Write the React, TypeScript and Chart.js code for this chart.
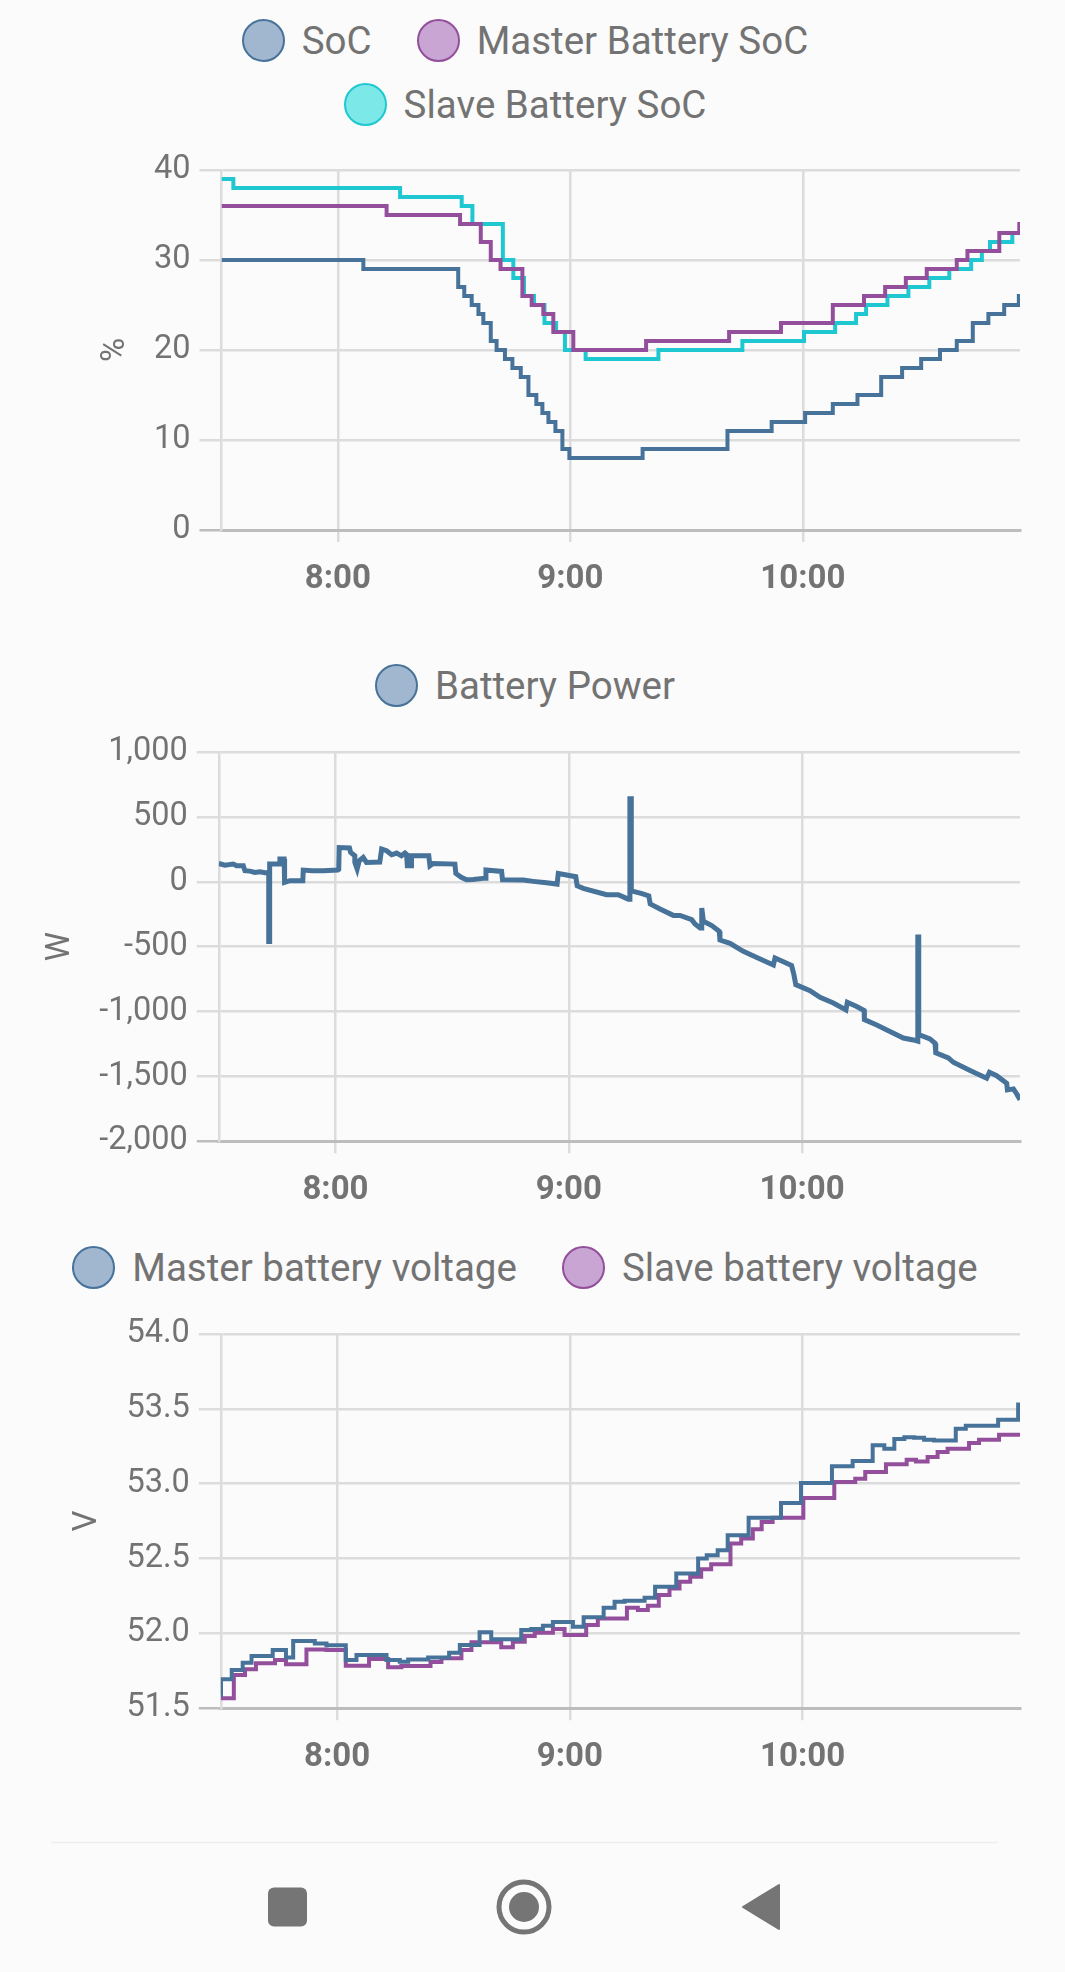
import React, { useEffect, useRef } from "react";
import { Chart, registerables } from "chart.js";

Chart.register(...registerables);

// ---- Data (hours since midnight / values) ----
const xTickHours = [8, 9, 10];
const xMin = 7.5;
const xMax = 10.934;

const socTimes = [7.5, 8.11, 8.518, 8.544, 8.576, 8.605, 8.626, 8.658, 8.683, 8.719, 8.751, 8.787, 8.82, 8.854, 8.88, 8.906, 8.936, 8.966, 8.996, 9.311, 9.676, 9.866, 10.01, 10.129, 10.235, 10.337, 10.427, 10.509, 10.59, 10.662, 10.731, 10.798, 10.866, 10.929, 10.934];
const socValues = [30, 29, 27, 26, 25, 24, 23, 21, 20, 19, 18, 17, 15, 14, 13, 12, 11, 9, 8, 9, 11, 12, 13, 14, 15, 17, 18, 19, 20, 21, 23, 24, 25, 26, 26];

const masterSocTimes = [7.5, 8.21, 8.526, 8.615, 8.658, 8.7, 8.794, 8.834, 8.884, 8.927, 9.013, 9.326, 9.683, 9.906, 10.129, 10.263, 10.354, 10.443, 10.533, 10.662, 10.708, 10.845, 10.931, 10.934];
const masterSocValues = [36, 35, 34, 32, 30, 29, 26, 25, 24, 22, 20, 21, 22, 23, 25, 26, 27, 28, 29, 30, 31, 33, 34, 34];

const slaveSocTimes = [7.5, 7.551, 8.268, 8.533, 8.579, 8.71, 8.755, 8.801, 8.844, 8.889, 8.939, 8.977, 9.066, 9.379, 9.74, 10.005, 10.139, 10.229, 10.272, 10.364, 10.454, 10.544, 10.63, 10.724, 10.77, 10.805, 10.901, 10.934];
const slaveSocValues = [39, 38, 37, 36, 34, 30, 28, 26, 25, 23, 22, 20, 19, 20, 21, 22, 23, 24, 25, 26, 27, 28, 29, 30, 31, 32, 33, 33];

const powerTimes = [7.5, 7.526, 7.562, 7.576, 7.605, 7.612, 7.633, 7.655, 7.676, 7.698, 7.714, 7.714, 7.718, 7.718, 7.762, 7.762, 7.78, 7.782, 7.805, 7.86, 7.862, 7.9, 7.948, 8.01, 8.014, 8.016, 8.06, 8.065, 8.083, 8.083, 8.093, 8.102, 8.119, 8.133, 8.19, 8.198, 8.219, 8.241, 8.262, 8.283, 8.298, 8.305, 8.308, 8.326, 8.326, 8.4, 8.405, 8.419, 8.512, 8.516, 8.541, 8.562, 8.591, 8.641, 8.645, 8.712, 8.716, 8.805, 8.848, 8.905, 8.95, 8.955, 9.03, 9.036, 9.062, 9.162, 9.212, 9.255, 9.262, 9.262, 9.268, 9.268, 9.314, 9.343, 9.349, 9.391, 9.448, 9.477, 9.527, 9.541, 9.563, 9.568, 9.57, 9.577, 9.613, 9.645, 9.648, 9.691, 9.748, 9.82, 9.877, 9.884, 9.92, 9.955, 9.965, 9.973, 10.034, 10.077, 10.134, 10.188, 10.194, 10.234, 10.266, 10.267, 10.32, 10.405, 10.434, 10.477, 10.496, 10.496, 10.5, 10.5, 10.548, 10.57, 10.573, 10.627, 10.648, 10.72, 10.791, 10.803, 10.834, 10.877, 10.88, 10.906, 10.92, 10.934];
const powerValues = [141, 128, 136, 123, 123, 85, 82, 72, 77, 69, 72, -460, -460, 136, 136, 175, 175, -5, 8, 8, 90, 85, 85, 90, 95, 264, 260, 226, 200, 149, 98, 162, 187, 149, 152, 252, 239, 208, 221, 200, 221, 210, 123, 123, 200, 200, 123, 141, 136, 64, 33, 15, 18, 28, 90, 80, 15, 13, 3, -8, -18, 64, 39, -31, -51, -100, -100, -134, -134, 640, 640, -70, -91, -109, -171, -210, -259, -259, -292, -325, -356, -356, -202, -305, -338, -382, -449, -474, -536, -595, -641, -587, -616, -646, -716, -793, -839, -890, -934, -988, -929, -962, -993, -1062, -1103, -1178, -1204, -1219, -1229, -425, -425, -1178, -1211, -1245, -1319, -1358, -1391, -1455, -1514, -1468, -1494, -1553, -1604, -1596, -1635, -1679];

const masterVoltTimes = [7.5, 7.501, 7.547, 7.594, 7.632, 7.723, 7.78, 7.811, 7.904, 7.954, 8.037, 8.083, 8.212, 8.269, 8.305, 8.391, 8.481, 8.527, 8.612, 8.662, 8.748, 8.791, 8.834, 8.884, 8.927, 9.013, 9.059, 9.145, 9.192, 9.235, 9.321, 9.366, 9.457, 9.551, 9.588, 9.635, 9.678, 9.768, 9.907, 9.993, 10.126, 10.215, 10.301, 10.351, 10.394, 10.437, 10.479, 10.522, 10.565, 10.658, 10.701, 10.84, 10.926, 10.934];
const masterVoltValues = [51.588, 51.693, 51.755, 51.804, 51.849, 51.889, 51.838, 51.949, 51.933, 51.92, 51.822, 51.855, 51.822, 51.811, 51.826, 51.838, 51.871, 51.922, 52.007, 51.96, 51.96, 52.022, 52.029, 52.051, 52.076, 52.044, 52.107, 52.171, 52.211, 52.218, 52.238, 52.311, 52.4, 52.5, 52.522, 52.556, 52.656, 52.773, 52.871, 53.004, 53.116, 53.151, 53.256, 53.233, 53.298, 53.311, 53.307, 53.293, 53.289, 53.367, 53.387, 53.427, 53.529, 53.529];

const slaveVoltTimes = [7.5, 7.556, 7.604, 7.651, 7.733, 7.78, 7.868, 7.954, 8.037, 8.137, 8.219, 8.276, 8.401, 8.448, 8.534, 8.577, 8.705, 8.755, 8.806, 8.849, 8.927, 8.977, 9.07, 9.12, 9.245, 9.292, 9.335, 9.382, 9.428, 9.471, 9.517, 9.564, 9.607, 9.69, 9.736, 9.786, 9.824, 9.871, 10.003, 10.136, 10.226, 10.269, 10.358, 10.447, 10.487, 10.537, 10.58, 10.623, 10.715, 10.758, 10.844, 10.934];
const slaveVoltValues = [51.566, 51.722, 51.76, 51.8, 51.822, 51.793, 51.893, 51.889, 51.784, 51.829, 51.773, 51.782, 51.809, 51.833, 51.889, 51.94, 51.907, 51.944, 51.982, 52.004, 52.029, 51.989, 52.056, 52.1, 52.171, 52.156, 52.184, 52.256, 52.3, 52.344, 52.378, 52.429, 52.462, 52.6, 52.633, 52.696, 52.744, 52.773, 52.904, 53.011, 53.033, 53.078, 53.129, 53.16, 53.149, 53.178, 53.211, 53.233, 53.271, 53.293, 53.327, 53.327];

const percentTicks = { min: 0, max: 40, step: 10 };
const powerTicks = { min: -2000, max: 1000, step: 500 };
const voltTicks = { min: 51.5, max: 54, step: 0.5 };

// ---- Styles ----
const BLUE = "#47729A";
const BLUE_FILL = "#A0B7CF";
const PURPLE = "#934F9C";
const PURPLE_FILL = "#C8A5D2";
const CYAN = "#1FC8D0";
const CYAN_FILL = "#7DE8E8";
const TEXT = "#737373";
const GRID = "#DCDCDC";
const AXIS = "#BDBDBD";
const BG = "#FBFBFB";
const FONT = "Roboto";

type Series = { label: string; times: number[]; values: number[]; color: string; fill: string };

const zip = (t: number[], v: number[]) => t.map((x, i) => ({ x, y: v[i] }));

type PanelProps = {
  series: Series[];
  stepped: boolean;
  lineWidth: number;
  yRange: { min: number; max: number; step: number };
  yTitle: string;
  yTitlePad: number;
  yFormat: (v: number) => string;
  legendTop: number;
  legendWidth: number;
  top: number;
  height: number;
  plotTop: number;
  plotBottom: number;
  plotLeft: number;
};

function Panel(p: PanelProps) {
  const ref = useRef<HTMLCanvasElement>(null);
  useEffect(() => {
    const paddingLeft = 30;
    const chart = new Chart(ref.current!, {
      type: "line",
      data: {
        datasets: p.series.map((s) => ({
          label: s.label,
          data: zip(s.times, s.values),
          borderColor: s.color,
          backgroundColor: s.fill,
          borderWidth: p.lineWidth,
          pointRadius: 0,
          stepped: p.stepped,
          fill: false,
          tension: 0,
        })),
      },
      options: {
        animation: false,
        responsive: false,
        layout: { padding: { top: p.plotTop - p.top, left: paddingLeft, right: 45, bottom: 0 } },
        plugins: { legend: { display: false }, tooltip: { enabled: false } },
        scales: {
          x: {
            type: "linear",
            min: xMin,
            max: xMax,
            afterBuildTicks: (scale: any) => {
              scale.ticks = xTickHours.map((value) => ({ value }));
            },
            afterFit: (scale: any) => {
              scale.height = p.top + p.height - p.plotBottom;
            },
            ticks: {
              autoSkip: false,
              maxRotation: 0,
              padding: 18,
              color: TEXT,
              font: { family: FONT, size: 33, weight: "bold" },
              callback: (v: any) => `${v}:00`,
            },
            grid: { color: GRID, lineWidth: 2.5, tickLength: 12 },
            border: { color: AXIS, width: 3 },
          },
          y: {
            min: p.yRange.min,
            max: p.yRange.max,
            afterFit: (scale: any) => {
              scale.width = p.plotLeft - paddingLeft;
            },
            ticks: {
              stepSize: p.yRange.step,
              padding: 9,
              color: TEXT,
              font: { family: FONT, size: 32.5 },
              callback: (v: any) => p.yFormat(Number(v)),
            },
            grid: {
              color: (ctx: any) => (ctx.tick && ctx.tick.value === p.yRange.min ? AXIS : GRID),
              lineWidth: 2.5,
              tickLength: 22,
            },
            border: { color: GRID, width: 2.5 },
            title: {
              display: true,
              text: p.yTitle,
              color: TEXT,
              padding: { top: p.yTitlePad, bottom: 0 },
              font: { family: FONT, size: 33 },
            },
          },
        },
      } as any,
    });
    return () => chart.destroy();
  }, []);

  return (
    <>
      <div
        style={{
          position: "absolute",
          left: 525 - p.legendWidth / 2,
          top: p.legendTop,
          width: p.legendWidth,
          display: "flex",
          flexWrap: "wrap",
          justifyContent: "center",
          columnGap: 45,
          rowGap: 21,
        }}
      >
        {p.series.map((s) => (
          <div key={s.label} style={{ display: "flex", alignItems: "center", height: 43 }}>
            <span
              style={{
                boxSizing: "border-box",
                display: "block",
                width: 43,
                height: 43,
                borderRadius: "50%",
                background: s.fill,
                border: `2px solid ${s.color}`,
                marginRight: 17,
              }}
            />
            <span style={{ fontFamily: FONT, fontSize: 38.5, color: TEXT, lineHeight: "43px", whiteSpace: "nowrap" }}>
              {s.label}
            </span>
          </div>
        ))}
      </div>
      <canvas
        ref={ref}
        width={1065}
        height={p.height}
        style={{ position: "absolute", left: 0, top: p.top, width: 1065, height: p.height }}
      />
    </>
  );
}

const plainNumber = (v: number) => v.toLocaleString("en-US");

export default function App() {
  useEffect(() => {
    document.body.style.margin = "0";
    document.body.style.background = BG;
  }, []);
  return (
    <div style={{ position: "relative", width: 1065, height: 1972, background: BG, overflow: "hidden" }}>
      <Panel
        series={[
          { label: "SoC", times: socTimes, values: socValues, color: BLUE, fill: BLUE_FILL },
          { label: "Master Battery SoC", times: masterSocTimes, values: masterSocValues, color: PURPLE, fill: PURPLE_FILL },
          { label: "Slave Battery SoC", times: slaveSocTimes, values: slaveSocValues, color: CYAN, fill: CYAN_FILL },
        ]}
        stepped={true}
        lineWidth={4}
        yRange={percentTicks}
        yTitle="%"
        yTitlePad={66}
        yFormat={plainNumber}
        legendTop={19}
        legendWidth={800}
        top={130}
        height={490}
        plotTop={170}
        plotBottom={530}
        plotLeft={221.5}
      />
      <Panel
        series={[{ label: "Battery Power", times: powerTimes, values: powerValues, color: BLUE, fill: BLUE_FILL }]}
        stepped={false}
        lineWidth={5}
        yRange={powerTicks}
        yTitle="W"
        yTitlePad={11}
        yFormat={plainNumber}
        legendTop={664}
        legendWidth={950}
        top={712}
        height={518}
        plotTop={752}
        plotBottom={1141.3}
        plotLeft={218.8}
      />
      <Panel
        series={[
          { label: "Master battery voltage", times: masterVoltTimes, values: masterVoltValues, color: BLUE, fill: BLUE_FILL },
          { label: "Slave battery voltage", times: slaveVoltTimes, values: slaveVoltValues, color: PURPLE, fill: PURPLE_FILL },
        ]}
        stepped={true}
        lineWidth={4}
        yRange={voltTicks}
        yTitle="V"
        yTitlePad={38}
        yFormat={(v) => v.toFixed(1)}
        legendTop={1246}
        legendWidth={950}
        top={1294}
        height={506}
        plotTop={1334}
        plotBottom={1708.2}
        plotLeft={220.8}
      />
      <svg width={1065} height={172} viewBox="0 1800 1065 172" style={{ position: "absolute", left: 0, top: 1800 }}>
        <line x1={51} y1={1842.5} x2={998} y2={1842.5} stroke="#EEEEEE" strokeWidth={1.5} />
        <rect x={268} y={1887.5} width={39} height={39} rx={6} fill="#757575" />
        <circle cx={524} cy={1907} r={25} fill="none" stroke="#757575" strokeWidth={5} />
        <circle cx={524} cy={1907} r={15} fill="#757575" />
        <path d="M779 1885 L779 1929 L743 1907 Z" fill="#757575" stroke="#757575" strokeWidth={2} strokeLinejoin="round" />
      </svg>
    </div>
  );
}
